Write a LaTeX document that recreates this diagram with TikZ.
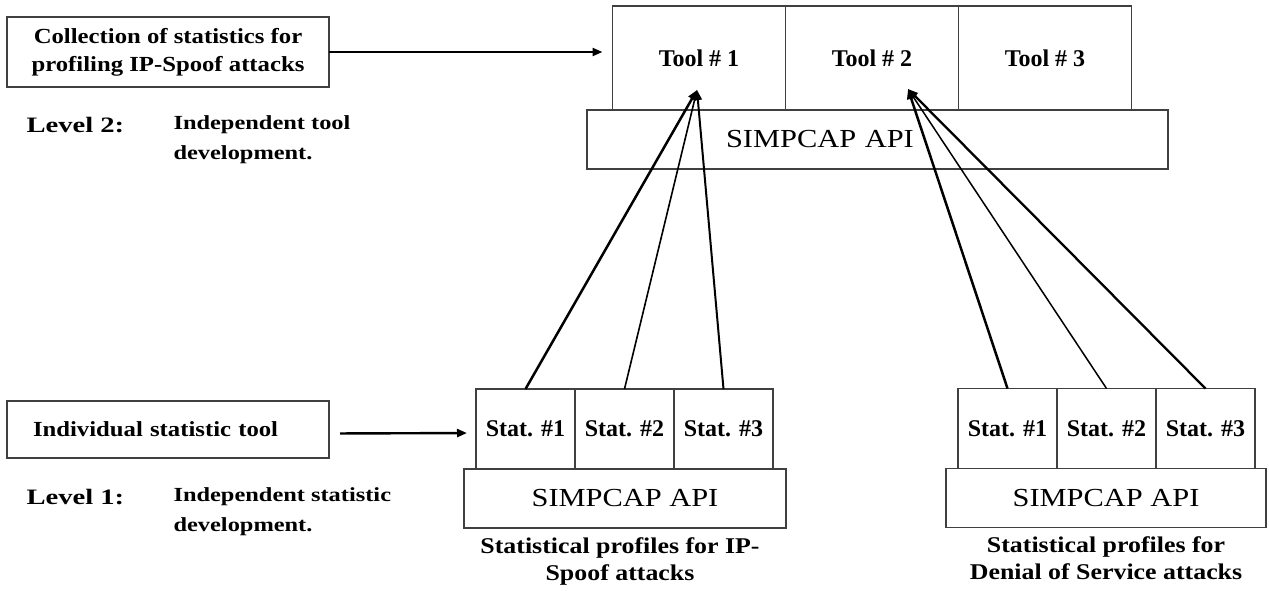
\documentclass[tikz,border=0pt]{standalone}
\usepackage{fontspec}
\setmainfont{Liberation Serif}
\newfontfamily\boxfont[FakeStretch=1.15]{Liberation Serif}
\newfontfamily\apifont[FakeStretch=1.17]{Liberation Serif}
\newfontfamily\notefont[FakeStretch=1.22]{Liberation Serif}
\newfontfamily\levelfont[FakeStretch=1.3]{Liberation Serif}
\usetikzlibrary{arrows.meta, positioning, calc}

\begin{document}
\begin{tikzpicture}[
    x=1pt, y=-1pt,
    frame/.style={draw=black!75, line width=1.2pt, rectangle, outer sep=0pt},
    cell/.style={frame, minimum height=80pt, minimum width=99pt, font=\fontsize{24}{28}\selectfont\bfseries},
    tool/.style={cell, minimum height=104pt, minimum width=173pt},
    api/.style={frame, minimum height=59pt, font=\apifont\fontsize{26}{30}\selectfont},
    note/.style={frame, minimum width=322pt, font=\boxfont\bfseries\fontsize{21.5}{28}\selectfont, align=center},
    caption/.style={font=\boxfont\bfseries\fontsize{22.5}{27}\selectfont, align=center},
    level/.style={font=\levelfont\bfseries\fontsize{22}{30}\selectfont},
    levelnote/.style={font=\notefont\bfseries\fontsize{20}{30}\selectfont, align=left},
    link/.style={-{Triangle[length=10pt,width=8pt]}}
]
    \useasboundingbox (0,0) rectangle (1269,590);

    % Level 2: tools on top of the API
    \node[tool] (tool1) at (699,58) {\raisebox{-3pt}{Tool \# 1}};
    \node[tool, right=0pt of tool1] (tool2) {\raisebox{-3pt}{Tool \# 2}};
    \node[tool, right=0pt of tool2] (tool3) {\raisebox{-3pt}{Tool \# 3}};
    \node[api, below=0pt of tool2, xshift=5.5pt, minimum width=581pt,
          text width=303pt, inner xsep=139pt, align=left] (topapi) {SIMPCAP API};

    \node[note, minimum height=70pt] (collect) at (168,52) {Collection of statistics for\\profiling IP-Spoof attacks};
    \draw[link, line width=2.2pt, shorten >=10pt] (collect.east) -- (tool1.west |- collect.east);

    \node[level, anchor=west] (lvl2) at (23,125) {Level 2:};
    \node[levelnote, anchor=west] (lvl2note) at (170,140) {Independent tool\\development.};

    % Level 1: IP-Spoof statistics
    \node[api, minimum width=322pt] (lapi) at (625,498.5) {SIMPCAP API};
    \node[cell, above=0pt of lapi, xshift=-0.5pt] (lstat2) {Stat. \#2};
    \node[cell, left=0pt of lstat2] (lstat1) {Stat. \#1};
    \node[cell, right=0pt of lstat2] (lstat3) {Stat. \#3};
    \node[caption, below=6pt of lapi, xshift=-5pt] (lcap) {Statistical profiles for IP-\\Spoof attacks};

    % Level 1: Denial of Service statistics
    \node[api, minimum width=320pt] (rapi) at (1106,498) {SIMPCAP API};
    \node[cell, above=0pt of rapi, xshift=0.5pt] (rstat2) {Stat. \#2};
    \node[cell, left=0pt of rstat2] (rstat1) {Stat. \#1};
    \node[cell, right=0pt of rstat2] (rstat3) {Stat. \#3};
    \node[caption, below=6pt of rapi] (rcap) {Statistical profiles for\\Denial of Service attacks};

    \node[note, minimum height=57pt, text width=270pt, inner xsep=26pt, align=left] (indiv) at (168,429.5) {Individual statistic tool};
    \draw[link, line width=2.4pt, shorten <=11pt, shorten >=9pt] ([yshift=-4pt]indiv.east) -- ([yshift=-4pt]lstat1.west);

    \node[level, anchor=west] (lvl1) at (23,497) {Level 1:};
    \node[levelnote, anchor=west] (lvl1note) at (170,512) {Independent statistic\\development.};

    % statistics feeding the tools
    \coordinate (in1) at ($(tool1.south)+(-2,-20)$);
    \coordinate (in2) at ($(tool2.south)+(36,-21)$);
    \draw[link, line width=2.5pt] (lstat1.north) -- (in1);
    \draw[link, line width=1.6pt] (lstat2.north) -- (in1);
    \draw[link, line width=2pt] (lstat3.north) -- (in1);
    \draw[link, line width=2.5pt] (rstat1.north) -- (in2);
    \draw[link, line width=1.5pt] (rstat2.north) -- (in2);
    \draw[link, line width=2.3pt] (rstat3.north) -- (in2);

\end{tikzpicture}
\end{document}
